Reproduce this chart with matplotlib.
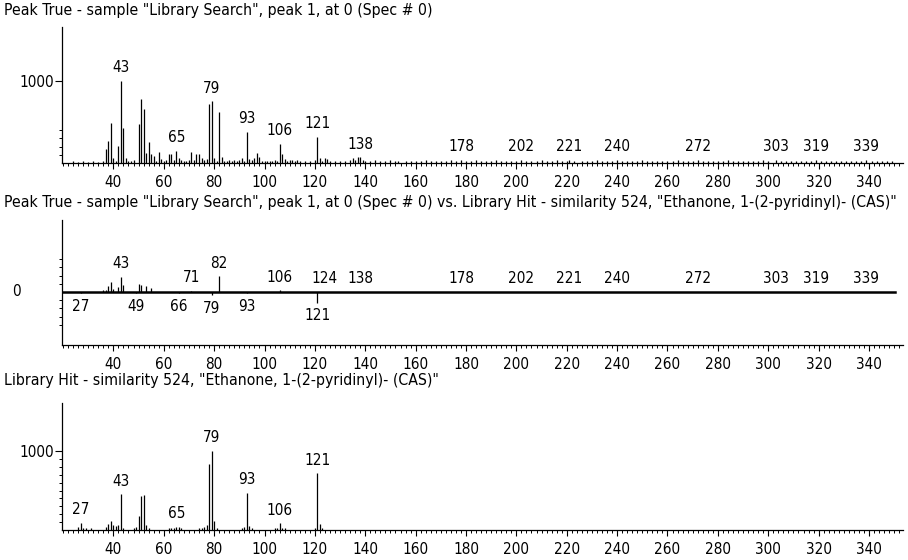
import matplotlib.pyplot as plt
from matplotlib import font_manager
from matplotlib.ticker import MultipleLocator, FixedLocator

# Mass spectrum comparison: sample peak vs. library hit

# prefer a narrow face if one is installed, else plain Liberation Sans
installed = {(f.name, f.stretch) for f in font_manager.fontManager.ttflist}
names = {n for n, s in installed}
stretch = "normal"
if "Liberation Sans Narrow" in names:
    family = ["Liberation Sans Narrow", "DejaVu Sans"]
elif any(n == "DejaVu Sans" and s in ("condensed", 500, "semi-condensed") for n, s in installed):
    family = ["DejaVu Sans"]
    stretch = "condensed"
else:
    family = ["Liberation Sans", "DejaVu Sans"]
plt.rcParams['font.family'] = family
plt.rcParams['font.stretch'] = stretch

title_sample = 'Peak True - sample "Library Search", peak 1, at 0 (Spec # 0)'
title_diff = ('Peak True - sample "Library Search", peak 1, at 0 (Spec # 0) vs. '
              'Library Hit - similarity 524, "Ethanone, 1-(2-pyridinyl)- (CAS)"')
title_lib = 'Library Hit - similarity 524, "Ethanone, 1-(2-pyridinyl)- (CAS)"'

# sample spectrum (m/z, abundance)
sample_mz = [24, 26, 28, 30, 32, 34, 36, 37, 38, 39, 40, 41, 42, 43, 44, 45, 46, 47, 48,
             50, 51, 52, 53, 54, 55, 56, 57, 58, 59, 60, 61, 62, 63, 64, 65, 66, 67, 68,
             69, 70, 71, 72, 73, 74, 75, 76, 77, 78, 79, 80, 81, 82, 83, 84, 85, 86, 87,
             88, 89, 90, 91, 92, 93, 94, 95, 96, 97, 98, 99, 100, 101, 102, 103, 104,
             105, 106, 107, 108, 109, 110, 111, 112, 113, 114, 116, 118, 120, 121, 122,
             123, 124, 125, 126, 128, 130, 132, 134, 135, 136, 137, 138, 139,
             140, 142, 144, 146, 148, 150, 152, 153, 156, 158, 160, 162, 164, 166, 168,
             170, 172, 174, 176, 178, 180, 182, 184, 186, 188, 190, 192, 194, 196, 198,
             200, 202, 204, 206, 208, 210, 212, 214, 216, 218, 220, 221, 223, 226, 228,
             230, 232, 234, 236, 238, 240, 242, 244, 246, 248, 250, 252, 254, 256, 258,
             260, 262, 264, 266, 268, 270, 272, 274, 276, 278, 280, 282, 284, 286, 288,
             290, 292, 294, 296, 298, 300, 303, 305, 307, 309, 311, 313, 315, 317, 319,
             321, 323, 325, 327, 329, 331, 333, 335, 337, 339, 341, 343, 345, 347, 349]
sample_int = [20, 10, 20, 10, 20, 10, 30, 167, 273, 486, 57, 30, 212, 1000, 424, 57, 30, 20, 40,
              473, 784, 657, 120, 253, 110, 86, 30, 139, 50, 30, 40, 110, 110, 40, 151, 60, 40, 20,
              30, 40, 131, 40, 110, 110, 60, 40, 50, 722, 751, 60, 30, 620, 78, 30, 20, 40, 30,
              40, 30, 40, 60, 30, 384, 50, 40, 60, 118, 70, 30, 20, 30, 20, 30, 40,
              30, 233, 110, 50, 30, 40, 40, 30, 40, 30, 20, 30, 40, 322, 60,
              30, 60, 50, 30, 20, 30, 20, 40, 60, 40, 70, 70, 40,
              30, 20, 40, 20, 30, 40, 20, 30, 20, 30, 20, 30, 40, 30, 20,
              30, 20, 40, 30, 40, 30, 20, 40, 30, 20, 30, 40, 20, 30, 20,
              30, 40, 30, 20, 30, 40, 30, 20, 40, 30, 20, 40, 30, 20, 30,
              20, 40, 30, 20, 30, 40, 20, 30, 20, 30, 40, 20, 30, 20, 30,
              20, 30, 40, 20, 30, 20, 40, 30, 20, 30, 20, 30, 40, 20, 30,
              20, 30, 20, 30, 40, 20, 40, 30, 20, 30, 20, 30, 20, 30, 40,
              20, 30, 20, 30, 20, 30, 20, 30, 20, 40, 30, 20, 30, 20, 30]
sample_labels = [43, 65, 79, 93, 106, 121, 138, 178, 202, 221, 240, 272, 303, 319, 339]

# comparison spectrum (positive: sample excess, negative: library excess)
diff_mz = [27, 36, 37, 38, 39, 40, 42, 43, 44, 49, 50, 51, 53, 55, 66, 71, 79, 82, 93, 106, 121]
diff_int = [-15, 20, 30, 70, 120, 40, 60, 183, 90, -15, 100, 80, 70, 50, -15, 15, -40, 190, -15, 20, -130]
diff_labels_up = [43, 71, 82, 106, 124, 138, 178, 202, 221, 240, 272, 303, 319, 339]
diff_labels_down = [27, 49, 66, 79, 93, 121]

# library spectrum
lib_mz = [26, 27, 28, 29, 31, 37, 38, 39, 40, 41, 42, 43, 44, 48, 49, 50, 51, 52, 53, 54,
          62, 63, 64, 65, 66, 67, 74, 75, 76, 77, 78, 79, 80, 81, 91, 92, 93, 94, 95,
          104, 105, 106, 107, 108, 120, 121, 122, 123]
lib_int = [40, 92, 30, 20, 20, 40, 70, 120, 60, 50, 60, 454, 30, 30, 40, 180, 430, 440, 60, 30,
           20, 30, 30, 40, 40, 30, 30, 30, 40, 60, 830, 1000, 120, 30, 20, 40, 470, 50, 20,
           20, 30, 85, 30, 20, 30, 720, 80, 20]
lib_labels = [27, 43, 65, 79, 93, 106, 121]

fontsize = 11
titlesize = 11.3
xlo, xhi = 19.6, 353.5
W, H = 908, 560
left_px, right_px = 62, 903


def make_axes(top_px, bottom_px):
    ax = fig.add_axes([left_px / W, 1 - bottom_px / H,
                       (right_px - left_px) / W, (bottom_px - top_px) / H])
    ax.set_xlim(xlo, xhi)
    for s in ("top", "right"):
        ax.spines[s].set_visible(False)
    ax.spines["left"].set_linewidth(0.9)
    ax.spines["bottom"].set_linewidth(0.9)
    ax.xaxis.set_major_locator(FixedLocator(range(40, 341, 20)))
    ax.xaxis.set_minor_locator(MultipleLocator(2))
    ax.tick_params(axis="x", which="major", direction="out", length=4.5, width=0.8,
                   pad=4, labelsize=fontsize)
    ax.tick_params(axis="x", which="minor", direction="out", length=2.5, width=0.7)
    ax.tick_params(axis="y", which="major", direction="out", length=5, width=0.8,
                   pad=1, labelsize=fontsize)
    ax.tick_params(axis="y", which="minor", direction="out", length=2.5, width=0.7)
    return ax


def label_peaks(ax, mz, inten, labels, up=True):
    lookup = dict(zip(mz, inten))
    for m in labels:
        v = lookup.get(m, 0)
        if up:
            ax.annotate(str(m), (m, max(v, 0)), xytext=(0, 4), textcoords="offset points",
                        ha="center", va="bottom", fontsize=fontsize)
        else:
            ax.annotate(str(m), (m, min(v, 0)), xytext=(0, -4), textcoords="offset points",
                        ha="center", va="top", fontsize=fontsize)


fig = plt.figure(figsize=(W / 100, H / 100), dpi=100)

# panel 1: sample
ax1 = make_axes(27, 163)
ax1.set_ylim(0, 1659)
ax1.vlines(sample_mz, 0, sample_int, color="black", lw=0.9)
ax1.set_yticks([1000])
ax1.yaxis.set_minor_locator(FixedLocator([100, 200, 300, 400]))
label_peaks(ax1, sample_mz, sample_int, sample_labels)
fig.text(4 / W, 1 - 10 / H, title_sample, ha="left", va="center", fontsize=titlesize)

# panel 2: comparison
ax2 = make_axes(220, 345)
ax2.set_ylim(-646, 878)
ax2.axhline(0, xmax=(895 - left_px) / (right_px - left_px), color="black", lw=1.8)
ax2.vlines(diff_mz, 0, diff_int, color="black", lw=0.9)
ax2.set_yticks([])
ax2.yaxis.set_minor_locator(FixedLocator([-400, -300, -200, -100, 100, 200, 300, 400]))
label_peaks(ax2, diff_mz, diff_int, diff_labels_up, up=True)
label_peaks(ax2, diff_mz, diff_int, diff_labels_down, up=False)
ax2.text(12 / W, 1 - 292 / H, "0", transform=fig.transFigure, ha="left", va="center",
         fontsize=fontsize)
fig.text(4 / W, 1 - 202 / H, title_diff, ha="left", va="center", fontsize=titlesize)

# panel 3: library hit
ax3 = make_axes(403, 530)
ax3.set_ylim(0, 1608)
ax3.vlines(lib_mz, 0, lib_int, color="black", lw=0.9)
ax3.set_yticks([1000])
ax3.yaxis.set_minor_locator(FixedLocator(range(100, 1000, 100)))
label_peaks(ax3, lib_mz, lib_int, lib_labels)
fig.text(4 / W, 1 - 381 / H, title_lib, ha="left", va="center", fontsize=titlesize)

plt.savefig("out.png", dpi=100)
plt.close()
